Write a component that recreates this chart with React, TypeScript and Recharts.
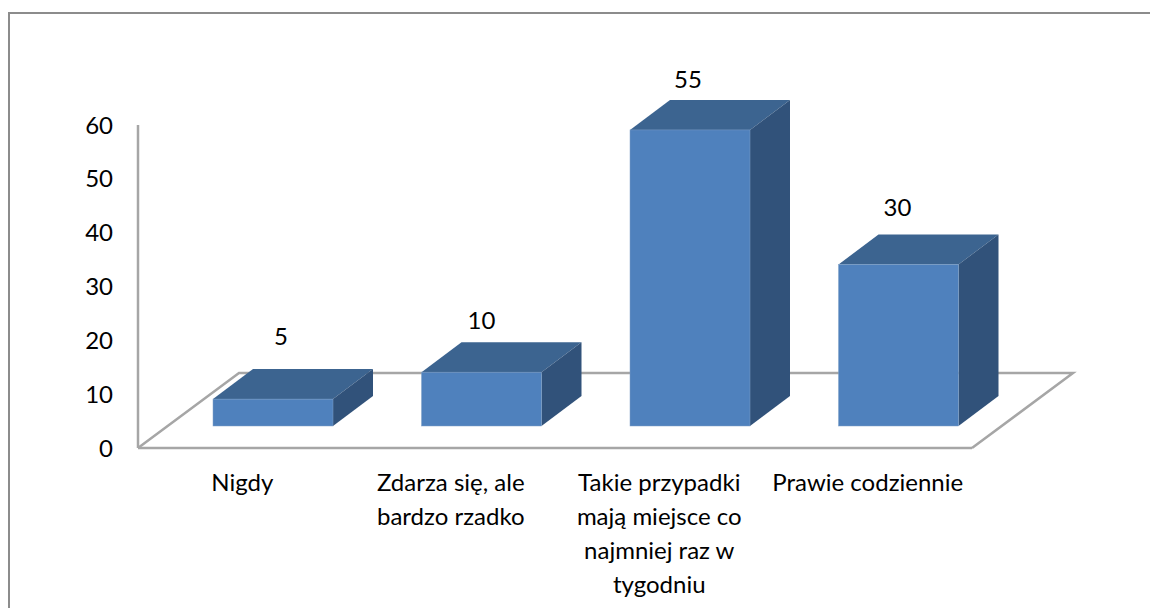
import { BarChart, Bar, XAxis, YAxis, LabelList, ReferenceArea } from 'recharts'

const categories = ['Nigdy', 'Zdarza się, ale\nbardzo rzadko', 'Takie przypadki\nmają miejsce co\nnajmniej raz w\ntygodniu', 'Prawie codziennie']
const values = [5, 10, 55, 30]
const yTicks = [0, 10, 20, 30, 40, 50, 60]

const chartData = categories.map((name, i) => ({ name, value: values[i] }))

const FONT = 'Lato, sans-serif'
const FONT_SIZE = 24
const LINE_HEIGHT = 34
const AXIS_GREY = '#a6a6a6'
const FRONT = '#4f81bd'
const TOP = '#3c6490'
const SIDE = '#31527a'

// fake 3d: how far the bars sit from the axis corner and how deep they are
const BAR_SHIFT_X = 31
const BAR_LIFT_Y = 22
const DEPTH_X = 40
const DEPTH_Y = 30
const FLOOR_X = 101
const FLOOR_Y = 75

// hand placed value labels, the original ones are not evenly spaced
const labelNudge = [
  { dx: 8, dy: -86 },
  { dx: 0, dy: -75 },
  { dx: -2, dy: -73 },
  { dx: -1, dy: -80 },
]

function Box3D(props: any) {
  const { x, y, width, height } = props
  const l = x + BAR_SHIFT_X
  const r = l + width
  const t = y - BAR_LIFT_Y
  const b = t + height
  return (
    <g>
      <polygon points={`${l},${t} ${l + DEPTH_X},${t - DEPTH_Y} ${r + DEPTH_X},${t - DEPTH_Y} ${r},${t}`} fill={TOP} />
      <polygon points={`${r},${t} ${r + DEPTH_X},${t - DEPTH_Y} ${r + DEPTH_X},${b - DEPTH_Y} ${r},${b}`} fill={SIDE} />
      <rect x={l} y={t} width={width} height={height} fill={FRONT} stroke="#7f9fc6" strokeWidth={0.5} />
    </g>
  )
}

function Floor(props: any) {
  const { x, y, height, width } = props
  const b = y + height
  const r = x + width
  return (
    <polyline
      points={`${x},${b} ${x + FLOOR_X},${b - FLOOR_Y} ${r + FLOOR_X},${b - FLOOR_Y} ${r},${b}`}
      fill="none"
      stroke={AXIS_GREY}
      strokeWidth={2.5}
    />
  )
}

function CategoryTick(props: any) {
  const { x, y, payload } = props
  const lines = String(payload.value).split('\n')
  return (
    <text x={x} y={y} textAnchor="middle" dominantBaseline="central" fontSize={FONT_SIZE} fontFamily={FONT} fill="#000">
      {lines.map((line, i) => (
        <tspan key={line} x={x} dy={i === 0 ? 0 : LINE_HEIGHT}>
          {line}
        </tspan>
      ))}
    </text>
  )
}

function ValueLabel(props: any) {
  const { x, y, width, index, value } = props
  const n = labelNudge[index]
  return (
    <text x={x + width / 2 + BAR_SHIFT_X + n.dx} y={y + n.dy} textAnchor="middle" dominantBaseline="central" fontSize={FONT_SIZE} fontFamily={FONT} fill="#000">
      {value}
    </text>
  )
}

export default function App() {
  return (
    <div style={{ position: 'absolute', left: 0, top: 0, width: 1150, height: 608, background: '#fff', overflow: 'hidden' }}>
      <div style={{ position: 'absolute', left: 8, top: 12, width: 1200, height: 640, border: '2px solid #8c8c8c' }} />
      <div style={{ position: 'absolute', left: 0, top: 0 }}>
        <BarChart width={1150} height={608} data={chartData} margin={{ top: 125, right: 178, bottom: 120, left: 78 }}>
          <ReferenceArea y1={0} y2={60} shape={<Floor />} fill="none" stroke="none" />
          <XAxis
            dataKey="name"
            height={40}
            interval={0}
            axisLine={{ stroke: AXIS_GREY, strokeWidth: 2.5 }}
            tickLine={false}
            tick={<CategoryTick />}
            tickMargin={27}
          />
          <YAxis
            width={60}
            domain={[0, 60]}
            ticks={yTicks}
            interval={0}
            axisLine={{ stroke: AXIS_GREY, strokeWidth: 2.5 }}
            tickLine={false}
            tickMargin={19}
            tick={{ fontSize: FONT_SIZE, fontFamily: FONT, fill: '#000' }}
          />
          <Bar dataKey="value" barSize={120} shape={<Box3D />} isAnimationActive={false}>
            <LabelList dataKey="value" content={<ValueLabel />} />
          </Bar>
        </BarChart>
      </div>
    </div>
  )
}
